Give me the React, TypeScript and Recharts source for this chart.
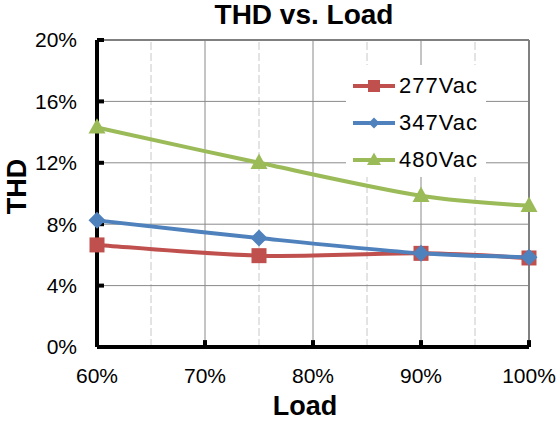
import React from 'react';
import { LineChart, Line, XAxis, YAxis, ReferenceLine, Legend } from 'recharts';

const loads = [60, 75, 90, 100];
const thd277 = [6.65, 5.95, 6.1, 5.8];
const thd347 = [8.25, 7.1, 6.1, 5.85];
const thd480 = [14.3, 12.0, 9.85, 9.2];
const xTicks = [60, 70, 80, 90, 100];
const xMinorTicks = [65, 75, 85, 95];
const yTicks = [0, 4, 8, 12, 16, 20];
const seriesKeys = ['s277', 's347', 's480'];
const seriesNames = ['277Vac', '347Vac', '480Vac'];
const seriesColors = ['#C0504D', '#4F81BD', '#9BBB59'];
const seriesShapes = ['square', 'diamond', 'triangle'];

const data = loads.map((load, i) => ({ load, s277: thd277[i], s347: thd347[i], s480: thd480[i] }));

const FONT = '"Liberation Sans", Arial, sans-serif';
const X_MIN = 60;
const X_MAX = 100;
const Y_MIN = 0;
const Y_MAX = 20;
// inner tick mark lengths expressed in data units (~6px)
const X_TICK_LEN = 0.45;
const Y_TICK_LEN = 0.65;

// Excel-like smoothing (Catmull-Rom / cardinal tension 0)
function excelSmooth(context: any) {
  let pts: number[][] = [];
  return {
    areaStart() {},
    areaEnd() {},
    lineStart() { pts = []; },
    point(x: number, y: number) { pts.push([+x, +y]); },
    lineEnd() {
      const n = pts.length;
      if (!n) return;
      context.moveTo(pts[0][0], pts[0][1]);
      if (n === 1) return;
      for (let i = 0; i < n - 1; i++) {
        const p0 = pts[i - 1] || pts[i];
        const p1 = pts[i];
        const p2 = pts[i + 1];
        const p3 = pts[i + 2] || pts[i + 1];
        const c1x = p1[0] + (p2[0] - p0[0]) / 6;
        const c1y = p1[1] + (p2[1] - p0[1]) / 6;
        const c2x = p2[0] - (p3[0] - p1[0]) / 6;
        const c2y = p2[1] - (p3[1] - p1[1]) / 6;
        context.bezierCurveTo(c1x, c1y, c2x, c2y, p2[0], p2[1]);
      }
    },
  };
}

function Marker({ cx, cy, shape, color, size }: any) {
  if (cx == null || cy == null) return null;
  if (shape === 'square') {
    return <rect x={cx - size / 2} y={cy - size / 2} width={size} height={size} fill={color} />;
  }
  if (shape === 'diamond') {
    const r = size / 2;
    return <polygon points={`${cx},${cy - r} ${cx + r},${cy} ${cx},${cy + r} ${cx - r},${cy}`} fill={color} />;
  }
  const h = size * 0.9;
  return (
    <polygon
      points={`${cx},${cy - h * 0.6} ${cx + size / 2},${cy + h * 0.4} ${cx - size / 2},${cy + h * 0.4}`}
      fill={color}
    />
  );
}

const markerSizes = [15, 17, 17];
const legendMarkerSizes = [12, 11, 14];

function LegendContent() {
  return (
    <div style={{ paddingTop: 2, fontFamily: FONT }}>
      {seriesNames.map((name, i) => (
        <div key={name} style={{ height: 37, display: 'flex', alignItems: 'center' }}>
          <svg width={49} height={18} style={{ display: 'block', marginLeft: 7 }}>
            <line x1={0} y1={9} x2={42} y2={9} stroke={seriesColors[i]} strokeWidth={4} />
            <Marker cx={21} cy={9} shape={seriesShapes[i]} color={seriesColors[i]} size={legendMarkerSizes[i]} />
          </svg>
          <span style={{ fontSize: 22, color: '#000', marginLeft: -3, letterSpacing: 1 }}>{name}</span>
        </div>
      ))}
    </div>
  );
}

export default function App() {
  return (
    <div style={{ position: 'absolute', left: 0, top: 0, width: 558, height: 421, background: '#fff', fontFamily: FONT }}>
      <div
        style={{
          position: 'absolute',
          left: 154,
          top: 1,
          width: 300,
          textAlign: 'center',
          fontSize: 28,
          lineHeight: '28px',
          fontWeight: 'bold',
          color: '#000',
        }}
      >
        THD vs. Load
      </div>
      <LineChart width={558} height={421} data={data} margin={{ top: 40, right: 29, bottom: 0, left: 0 }}>
        {xMinorTicks.map((t) => (
          <ReferenceLine key={`minor-${t}`} x={t} stroke="#c8c8c8" strokeDasharray="8 3" strokeWidth={1} />
        ))}
        {xTicks.filter((t) => t !== X_MIN && t !== X_MAX).map((t) => (
          <ReferenceLine key={`gx-${t}`} x={t} stroke="#8a8a8a" strokeWidth={1} />
        ))}
        {yTicks.filter((t) => t !== Y_MIN && t !== Y_MAX).map((t) => (
          <ReferenceLine key={`gy-${t}`} y={t} stroke="#8a8a8a" strokeWidth={1} />
        ))}
        <ReferenceLine x={X_MAX} stroke="#808080" strokeWidth={2} />
        <ReferenceLine y={Y_MAX} stroke="#808080" strokeWidth={2} />
        {xTicks.filter((t) => t !== X_MIN).map((t) => (
          <ReferenceLine
            key={`tx-${t}`}
            segment={[{ x: t, y: Y_MIN }, { x: t, y: Y_MIN + X_TICK_LEN }]}
            stroke="#000"
            strokeWidth={4}
          />
        ))}
        {yTicks.filter((t) => t !== Y_MIN).map((t) => (
          <ReferenceLine
            key={`ty-${t}`}
            segment={[{ x: X_MIN, y: t }, { x: X_MIN + Y_TICK_LEN, y: t }]}
            stroke="#000"
            strokeWidth={4}
          />
        ))}
        <XAxis
          dataKey="load"
          type="number"
          domain={[X_MIN, X_MAX]}
          ticks={xTicks}
          height={74}
          tickFormatter={(v: number) => `${v}%`}
          tick={{ fill: '#000', fontSize: 21 }}
          axisLine={{ stroke: '#000', strokeWidth: 4 }}
          tickLine={false}
          tickSize={0}
          tickMargin={21}
          interval={0}
          label={{
            content: ({ viewBox }: any) => (
              <text
                x={viewBox.x + viewBox.width / 2 - 8}
                y={viewBox.y + viewBox.height - 6}
                textAnchor="middle"
                fontSize={27}
                fontWeight="bold"
                fill="#000"
              >
                Load
              </text>
            ),
          }}
        />
        <YAxis
          type="number"
          domain={[Y_MIN, Y_MAX]}
          ticks={yTicks}
          width={97}
          tickFormatter={(v: number) => `${v}%`}
          tick={{ fill: '#000', fontSize: 21 }}
          axisLine={{ stroke: '#000', strokeWidth: 4 }}
          tickLine={false}
          tickSize={0}
          tickMargin={20}
          interval={0}
          label={{
            content: ({ viewBox }: any) => (
              <text
                x={viewBox.x + 26}
                y={viewBox.y + viewBox.height / 2 - 7}
                transform={`rotate(-90, ${viewBox.x + 26}, ${viewBox.y + viewBox.height / 2 - 7})`}
                textAnchor="middle"
                fontSize={27}
                fontWeight="bold"
                fill="#000"
              >
                THD
              </text>
            ),
          }}
        />
        <Legend
          layout="vertical"
          align="center"
          verticalAlign="middle"
          content={() => <LegendContent />}
          wrapperStyle={{
            position: 'absolute',
            left: 346,
            top: 65,
            width: 140,
            height: 112,
            background: '#fff',
            margin: 0,
          }}
        />
        {seriesKeys.map((key, i) => (
          <Line
            key={key}
            dataKey={key}
            name={seriesNames[i]}
            type={excelSmooth as any}
            stroke={seriesColors[i]}
            strokeWidth={4}
            isAnimationActive={false}
            activeDot={false}
            dot={(p: any) => (
              <Marker
                key={`${key}-${p.index}`}
                cx={p.cx}
                cy={p.cy}
                shape={seriesShapes[i]}
                color={seriesColors[i]}
                size={markerSizes[i]}
              />
            )}
          />
        ))}
      </LineChart>
    </div>
  );
}
